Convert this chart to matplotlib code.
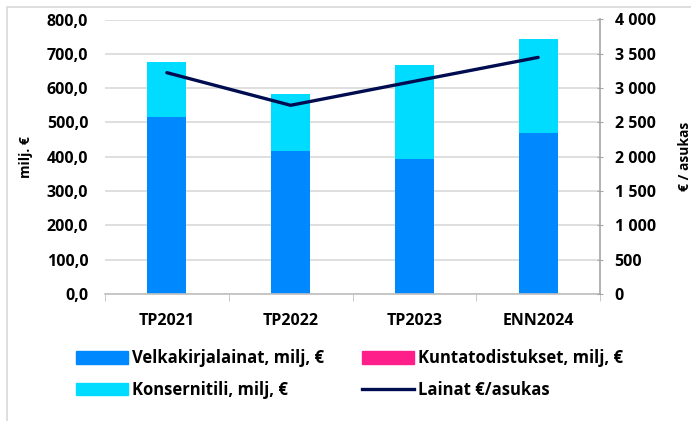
import matplotlib
matplotlib.use("Agg")
import matplotlib.pyplot as plt
from matplotlib.patches import Rectangle
from matplotlib.lines import Line2D
import numpy as np

plt.rcParams['font.family'] = ['Open Sans', 'DejaVu Sans']

categories = ["TP2021", "TP2022", "TP2023", "ENN2024"]
velkakirjalainat = [515, 418, 394, 470]
kuntatodistukset = [0, 0, 0, 0]
konsernitili = [160, 165, 273, 273]
lainat_per_asukas = [3225, 2750, 3100, 3448]

left_ticks = [0, 100, 200, 300, 400, 500, 600, 700, 800]
right_ticks = [0, 500, 1000, 1500, 2000, 2500, 3000, 3500, 4000]

c_velka = "#0088ff"
c_kunta = "#ff1f8a"
c_konserni = "#00dcff"
c_line = "#000c50"
grid_c = "#d9d9d9"

fig = plt.figure(figsize=(6.91, 4.21), dpi=100)
fig.patches.append(Rectangle((7/691, -0.1), 1.2, 1 - 7/421 + 0.1, transform=fig.transFigure,
                             fill=False, edgecolor="#d9d9d9", linewidth=1.2))
ax = fig.add_axes([105/691, 1 - 294/421, 495/691, (294 - 19.5)/421])
x = np.arange(len(categories))
w = 0.315
v = np.array(velkakirjalainat)
k = np.array(kuntatodistukset)
ko = np.array(konsernitili)
ax.bar(x, v, w, color=c_velka, zorder=2)
ax.bar(x, k, w, bottom=v, color=c_kunta, zorder=2)
ax.bar(x, ko, w, bottom=v + k, color=c_konserni, zorder=2)

ax.set_xlim(-0.5, 3.5)
ax.set_ylim(0, 800)
ax.set_yticks(left_ticks)
ax.set_yticklabels([f"{t:.1f}".replace(".", ",") for t in left_ticks])
ax.yaxis.grid(True, color=grid_c, linewidth=1.2, zorder=0)
ax.set_axisbelow(True)
ax.set_xticks(x)
ax.set_xticklabels(categories)
ax.set_xticks(np.arange(-0.5, 4, 1), minor=True)
ax.tick_params(axis='x', which='major', length=0, pad=14)
ax.tick_params(axis='x', which='minor', length=5, color="#bfbfbf", direction='out')
ax.tick_params(axis='y', length=0, pad=12)
for lab in ax.get_xticklabels() + ax.get_yticklabels():
    lab.set_fontweight('bold')
    lab.set_fontsize(11.5)
for s in ["left", "top", "right"]:
    ax.spines[s].set_visible(False)
ax.spines["bottom"].set_color("#bfbfbf")
ax.spines["bottom"].set_linewidth(1.2)
ax.set_ylabel("milj. €", fontsize=10, fontweight='bold', labelpad=10)

ax2 = ax.twinx()
ax2.plot(x, lainat_per_asukas, color=c_line, linewidth=2.4, solid_capstyle='round', zorder=3)
ax2.set_ylim(0, 4000)
ax2.set_yticks(right_ticks)
ax2.set_yticklabels([f"{t:,}".replace(",", " ") for t in right_ticks])
for s in ["left", "top", "bottom"]:
    ax2.spines[s].set_visible(False)
ax2.spines["right"].set_color("#a6a6a6")
ax2.spines["right"].set_linewidth(1.2)
ax2.tick_params(axis='y', length=5, direction='inout', color="#a6a6a6", pad=8)
for lab in ax2.get_yticklabels():
    lab.set_fontweight('bold')
    lab.set_fontsize(11.5)
ax2.set_ylabel("€ / asukas", fontsize=10, fontweight='bold', labelpad=16)

handles = [Rectangle((0, 0), 1, 1, color=c_velka),
           Rectangle((0, 0), 1, 1, color=c_konserni),
           Rectangle((0, 0), 1, 1, color=c_kunta),
           Line2D([0], [0], color=c_line, linewidth=2.4)]
labels = ["Velkakirjalainat, milj, €", "Konsernitili, milj, €",
          "Kuntatodistukset, milj, €", "Lainat €/asukas"]
fig.legend(handles, labels, ncol=2, loc='upper left', bbox_to_anchor=(61/691, 1 - 334/421),
           frameon=False, prop={'weight': 'bold', 'size': 12}, handlelength=3.1,
           handleheight=0.8, handletextpad=0.25, columnspacing=2.3, labelspacing=0.82)

fig.savefig("out.png", dpi=100)
